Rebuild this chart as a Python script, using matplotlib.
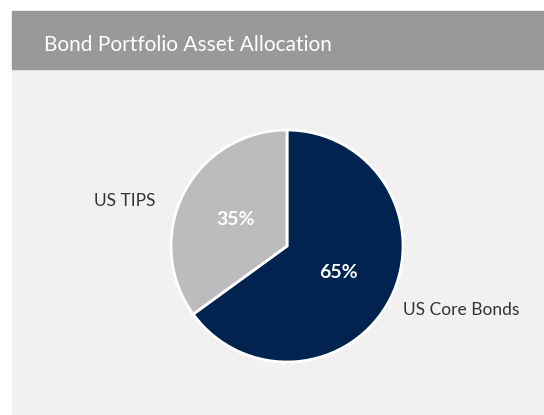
import matplotlib.pyplot as plt
from matplotlib.patches import Rectangle

# data
categories = ['US Core Bonds', 'US TIPS']
shares     = [65, 35]
colors     = ['#00234f', '#bcbbbe']
title      = 'Bond Portfolio Asset Allocation'

W, H = 544, 415
plt.rcParams['font.family'] = ['Lato', 'DejaVu Sans']

fig = plt.figure(figsize=(W / 100, H / 100), dpi=100)
ax = fig.add_axes([0, 0, 1, 1])
ax.set_xlim(0, W)
ax.set_ylim(0, H)
ax.set_aspect('equal')
ax.axis('off')

# panel + header band
ax.add_patch(Rectangle((12, 0), W - 12, H - 69, color='#f1f1f1', zorder=0))
ax.add_patch(Rectangle((12, H - 69), W - 12, 58, color='#999999', zorder=0))
ax.text(44, H - 45, title, color='white', fontsize=15, fontweight='normal',
        va='center', ha='left')

cx, cy, r = 287, H - 246, 116
wedges, _, pcts = ax.pie(shares, colors=colors, startangle=90, counterclock=False,
                         center=(cx, cy), radius=r, autopct='%d%%', pctdistance=0.5,
                         wedgeprops=dict(edgecolor='white', linewidth=2),
                         textprops=dict(color='white', fontsize=14, fontweight='bold'))
ax.set_xlim(0, W)
ax.set_ylim(0, H)

ax.text(403, H - 310, categories[0], color='#333333', fontsize=12.5, ha='left', va='center')
ax.text(155, H - 201, categories[1], color='#333333', fontsize=12.5, ha='right', va='center')

fig.savefig('out.png', dpi=100)
